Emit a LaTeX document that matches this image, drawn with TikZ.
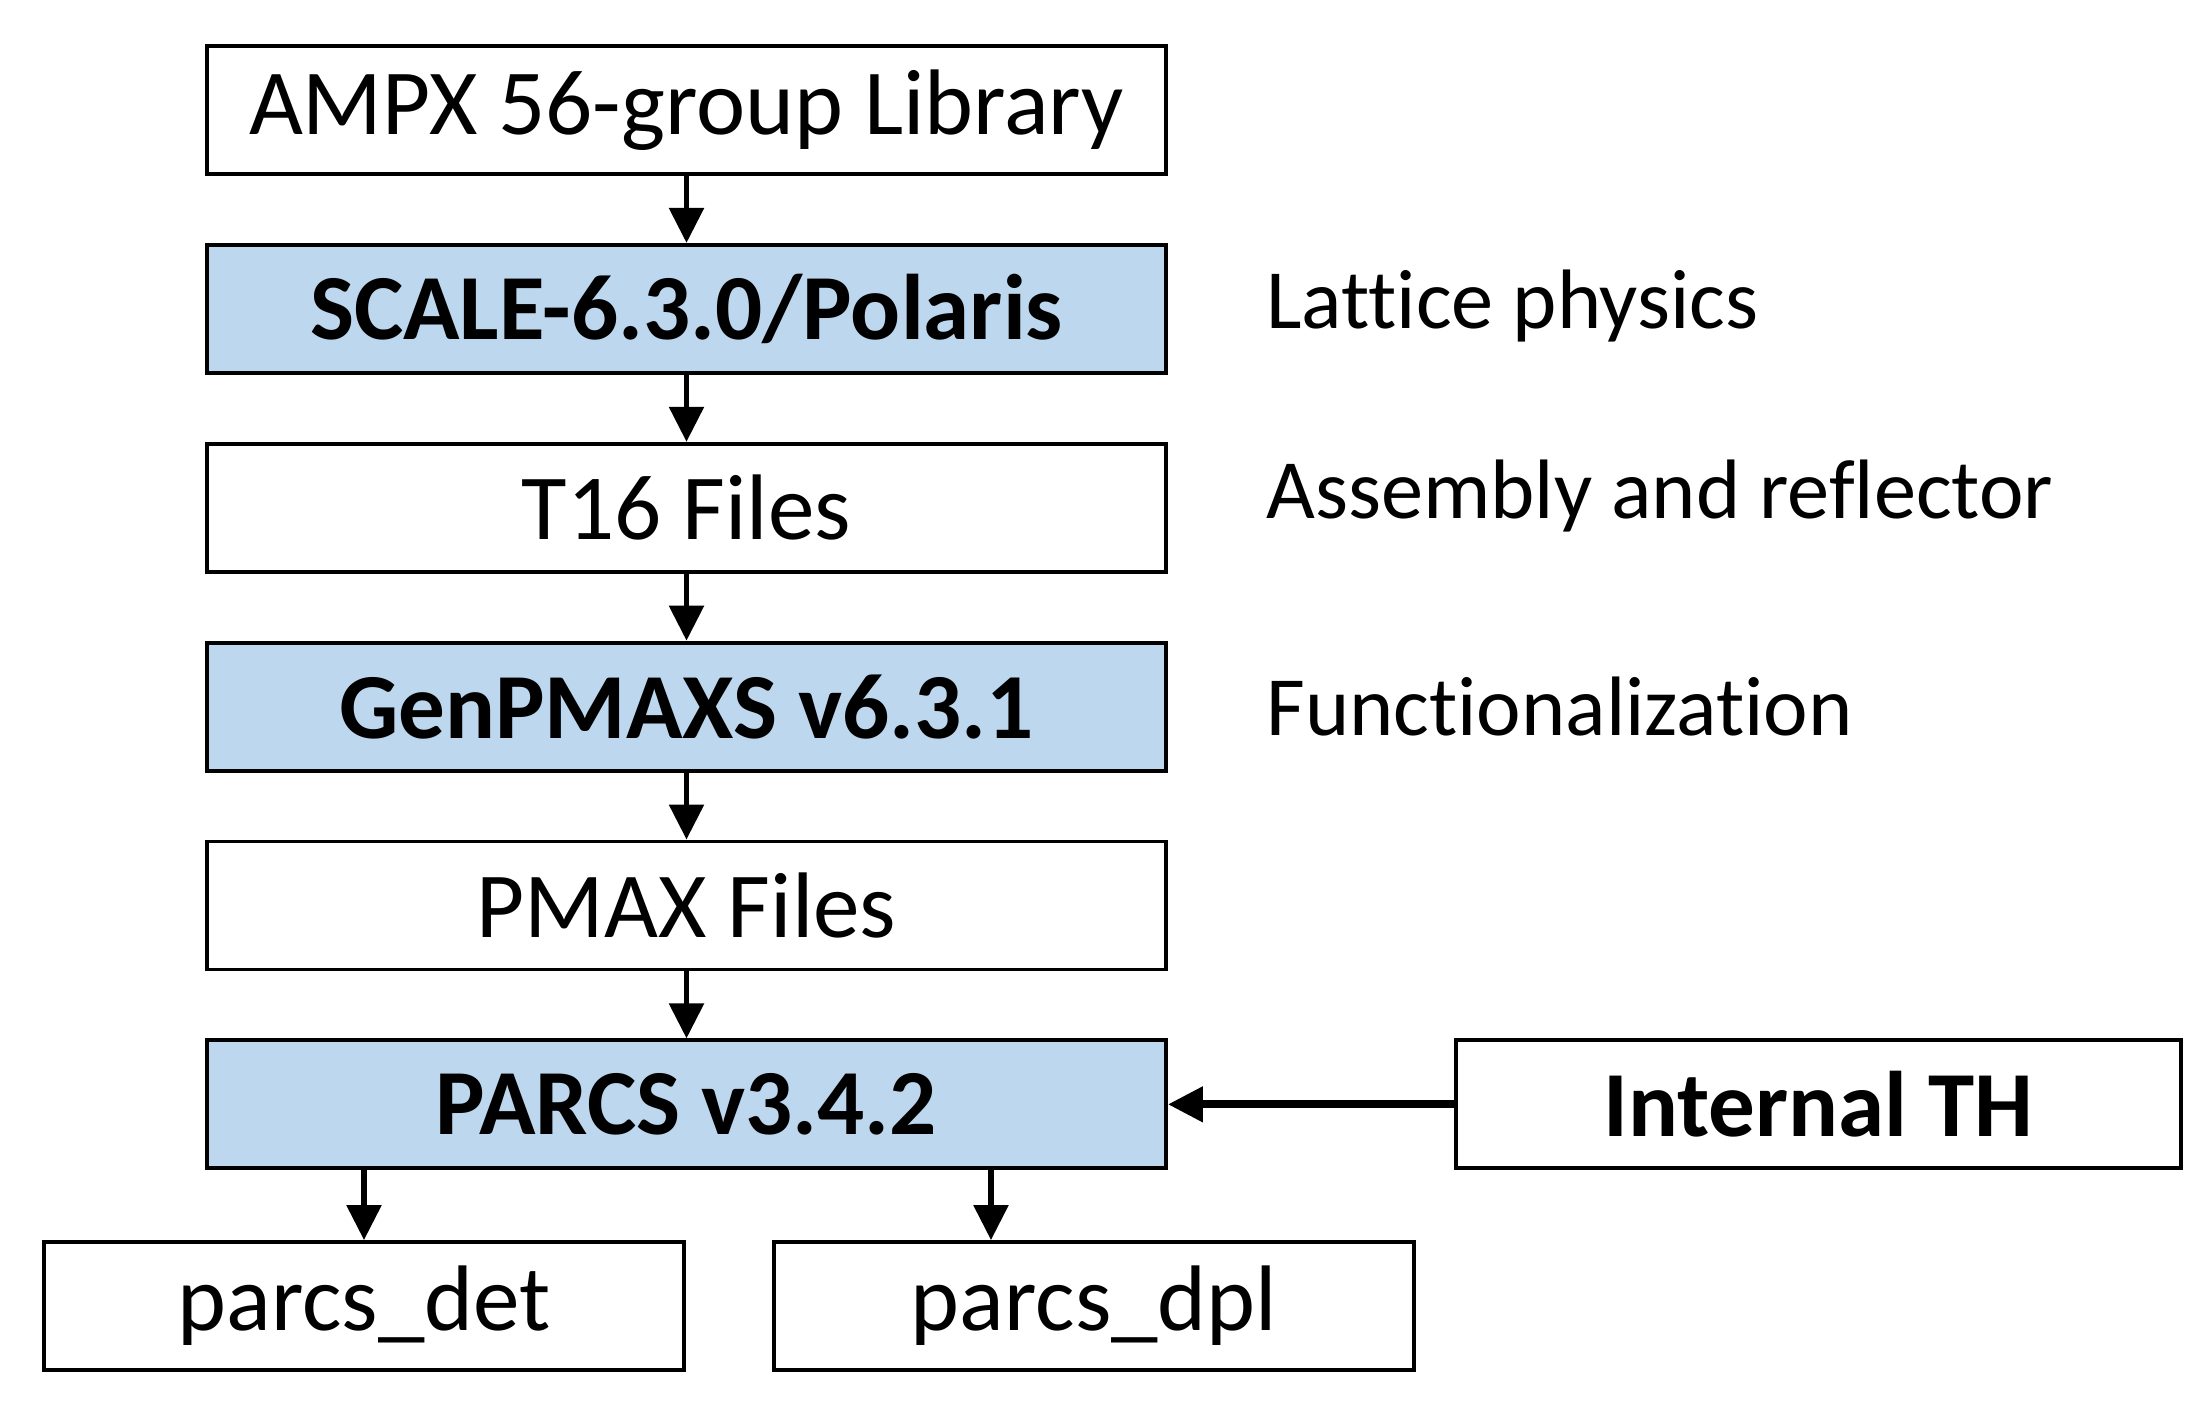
\documentclass[tikz,border=0pt]{standalone}
\usepackage{fontspec}
\setmainfont{Carlito}[Ligatures=NoCommon]
\usepackage{tikz}
\usepackage{xcolor}
\usetikzlibrary{arrows.meta, positioning, calc}
\definecolor{cBlue}{RGB}{189,215,238}
\newcommand{\boxfont}{\fontsize{26.5}{31}\selectfont}
\newcommand{\notefont}{\fontsize{24}{29}\selectfont}
\tikzset{
    codebox/.style ={rectangle, minimum width=9.59cm, minimum height=1.28cm, text centered, align=center, draw=black, line width=1.1pt, fill=cBlue, font=\boxfont\bfseries},
    filebox/.style ={rectangle, minimum width=9.59cm, minimum height=1.28cm, text centered, align=center, draw=black, line width=1.1pt, fill=white, font=\boxfont},
    outbox/.style  ={filebox, minimum width=6.4cm},
    note/.style    ={anchor=west, align=left, font=\notefont},
    flowarrow/.style={-{Triangle[length=3.5mm, width=3.4mm]}, line width=1.6pt},
}

\begin{document}
\begin{tikzpicture}[node distance=0.67cm]
                \useasboundingbox (0,0) rectangle (22.08,-14.14);
                \node[filebox] (ampx) at (6.865,-1.10){AMPX 56-group Library};
                \node[codebox, below=of ampx] (scale){SCALE-6.3.0/Polaris};
                \node[filebox, below=of scale] (tsix){T16 Files};
                \node[codebox, below=of tsix] (genp){GenPMAXS v6.3.1};
                \node[filebox, below=of genp] (pmax){PMAX Files};
                \node[codebox, below=of pmax] (parcs){PARCS v3.4.2};
                \node[outbox] (det) at (3.64,-13.06){parcs\_det};
                \node[outbox] (dpl) at (10.94,-13.06){parcs\_dpl};
                \node[filebox, font=\boxfont\bfseries, minimum width=7.25cm, right=2.86cm of parcs] (th){Internal TH};
                % side notes
                \node[note, right=0.86cm of scale, yshift=0.03cm] (lat){Lattice physics};
                \node[note, right=0.86cm of tsix, yshift=0.12cm] (asm){Assembly and reflector};
                \node[note, right=0.86cm of genp] (fun){Functionalization};
                \coordinate (dplin) at ($(dpl.north west)!0.34!(dpl.north east)$);
                \draw[flowarrow](ampx)--(scale);
                \draw[flowarrow](scale)--(tsix);
                \draw[flowarrow](tsix)--(genp);
                \draw[flowarrow](genp)--(pmax);
                \draw[flowarrow](pmax)--(parcs);
                \draw[flowarrow, line width=2.2pt](th.west)--(parcs.east);
                \draw[flowarrow](parcs.south -| det.north)--(det.north);
                \draw[flowarrow](parcs.south -| dplin)--(dplin);
            \end{tikzpicture}
\end{document}
